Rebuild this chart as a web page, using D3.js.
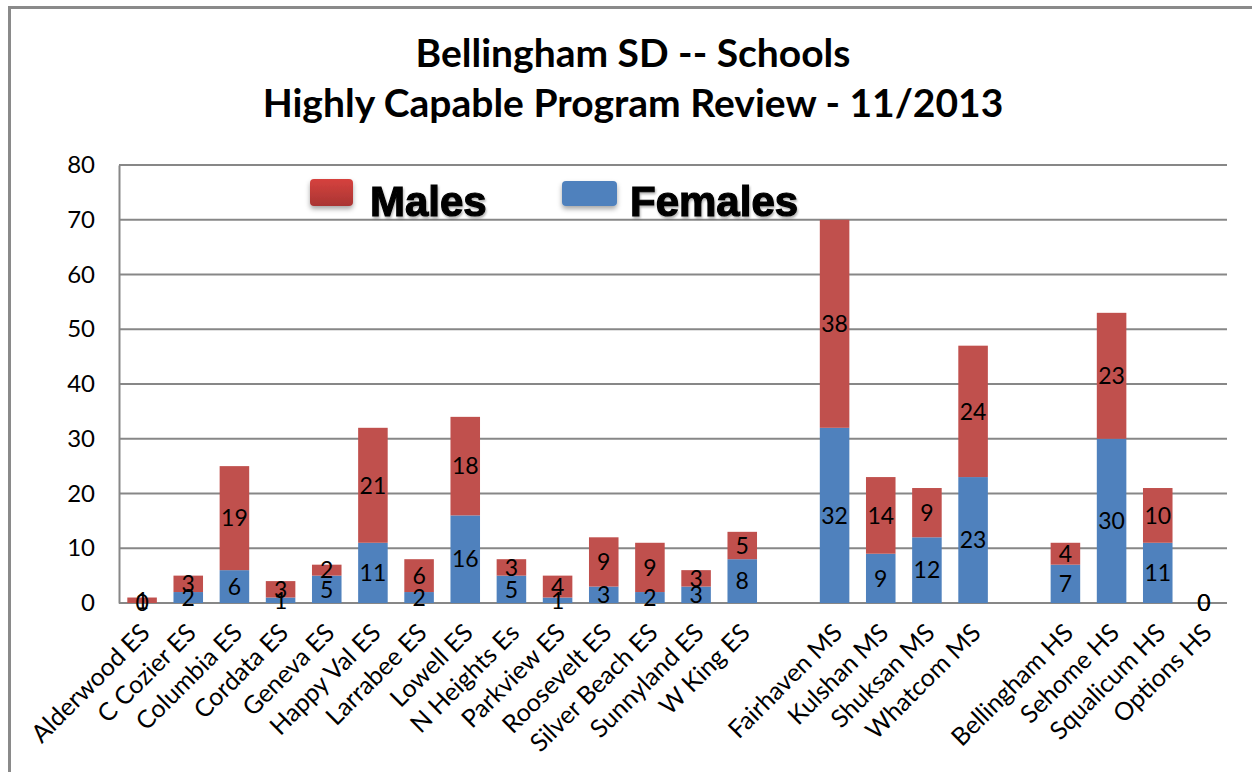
<!DOCTYPE html>
<html>
<head>
<meta charset="utf-8">
<script src="https://cdn.jsdelivr.net/npm/d3@7"></script>
<style>
  html, body { margin: 0; padding: 0; background: #fff; }
  svg { display: block; }
</style>
</head>
<body>
<svg id="chart" width="1252" height="772"></svg>
<script>
const categories = ["Alderwood ES","C Cozier ES","Columbia ES","Cordata ES","Geneva ES","Happy Val ES","Larrabee ES","Lowell ES","N Heights Es","Parkview ES","Roosevelt ES","Silver Beach ES","Sunnyland ES","W King ES","","Fairhaven MS","Kulshan MS","Shuksan MS","Whatcom MS","","Bellingham HS","Sehome HS","Squalicum HS","Options HS"];
const females = [0,2,6,1,5,11,2,16,5,1,3,2,3,8,null,32,9,12,23,null,7,30,11,0];
const males   = [1,3,19,3,2,21,6,18,3,4,9,9,3,5,null,38,14,9,24,null,4,23,10,0];
const yTicks = [0,10,20,30,40,50,60,70,80];
const titleLines = ["Bellingham SD -- Schools","Highly Capable Program Review - 11/2013"];
const seriesNames = ["Males","Females"];

const svg = d3.select("#chart");
const W = 1252, H = 772;
const plot = {left: 119, right: 1227, top: 165, bottom: 603};
const red = "#C0504D", blue = "#4F81BD", grid = "#878787";
const font = "Lato, 'Open Sans', sans-serif";

const defs = svg.append("defs");
const sh = defs.append("filter").attr("id","shadow").attr("x","-30%").attr("y","-30%").attr("width","160%").attr("height","180%");
sh.append("feDropShadow").attr("dx",0).attr("dy",3).attr("stdDeviation",2.5).attr("flood-color","#000").attr("flood-opacity",0.35);
const gR = defs.append("linearGradient").attr("id","gradR").attr("x1",0).attr("y1",0).attr("x2",0).attr("y2",1);
gR.append("stop").attr("offset","0%").attr("stop-color","#D6423E");
gR.append("stop").attr("offset","100%").attr("stop-color","#A93533");
const ts = defs.append("filter").attr("id","tshadow").attr("x","-10%").attr("y","-20%").attr("width","120%").attr("height","150%");
ts.append("feDropShadow").attr("dx",1).attr("dy",2).attr("stdDeviation",1.2).attr("flood-color","#000").attr("flood-opacity",0.3);

// outer frame
svg.append("path").attr("d",`M9.5,${H} V7.5 H${W}`).attr("fill","none").attr("stroke","#8a8a8a").attr("stroke-width",3);

const ids = categories.map((c,i)=>"c"+i);
const x = d3.scaleBand().domain(ids).range([plot.left, plot.right]).paddingInner(0.36).paddingOuter(0.18);
const y = d3.scaleLinear().domain([0,80]).range([plot.bottom, plot.top]);

// gridlines
svg.append("g").selectAll("line").data(yTicks).join("line")
  .attr("x1",plot.left).attr("x2",plot.right)
  .attr("y1",d=>y(d)).attr("y2",d=>y(d))
  .attr("stroke",grid).attr("stroke-width",2);

// y axis
const yAxis = svg.append("g").attr("transform",`translate(${plot.left},0)`)
  .call(d3.axisLeft(y).tickValues(yTicks).tickSize(0).tickPadding(24));
yAxis.select(".domain").attr("stroke",grid).attr("stroke-width",2);
yAxis.selectAll("text").attr("font-family",font).attr("font-size",24).attr("fill","#000");

// x axis labels
const xAxis = svg.append("g").attr("transform",`translate(0,${plot.bottom})`)
  .call(d3.axisBottom(x).tickSize(0).tickFormat((d,i)=>categories[i]));
xAxis.select(".domain").remove();
xAxis.selectAll("text")
  .attr("font-family",font).attr("font-size",25).attr("fill","#000")
  .attr("text-anchor","end")
  .attr("transform","translate(-3,19) rotate(-45)")
  .attr("dy","0.7em").attr("y",0).attr("x",0);

const rows = categories.map((c,i)=>({id:ids[i], f:females[i], m:males[i]})).filter(d=>d.f!==null);

const bars = svg.append("g");
bars.selectAll("rect.f").data(rows).join("rect").attr("class","f")
  .attr("x",d=>x(d.id)).attr("width",x.bandwidth())
  .attr("y",d=>y(d.f)).attr("height",d=>y(0)-y(d.f)).attr("fill",blue);
bars.selectAll("rect.m").data(rows).join("rect").attr("class","m")
  .attr("x",d=>x(d.id)).attr("width",x.bandwidth())
  .attr("y",d=>y(d.f+d.m)).attr("height",d=>y(d.f)-y(d.f+d.m)).attr("fill",red);

const labels = svg.append("g").attr("font-family",font).attr("font-size",23).attr("text-anchor","middle").attr("fill","#000");
labels.selectAll("text.f").data(rows).join("text")
  .attr("x",d=>x(d.id)+x.bandwidth()/2)
  .attr("y",d=>(y(0)+y(d.f))/2).attr("dy","0.36em").text(d=>d.f);
labels.selectAll("text.m").data(rows).join("text")
  .attr("x",d=>x(d.id)+x.bandwidth()/2)
  .attr("y",d=>(y(d.f)+y(d.f+d.m))/2).attr("dy","0.36em").text(d=>d.m);

// title
svg.append("g").selectAll("text").data(titleLines).join("text")
  .attr("x",633).attr("y",(d,i)=>67+i*50)
  .attr("text-anchor","middle").attr("font-family",font).attr("font-weight","bold").attr("font-size",39)
  .attr("fill","#000").text(d=>d);

// legend
const legend = [
  {name: seriesNames[0], fill:"url(#gradR)", sx:310, sw:43, sy:179, sh:27, tx:370},
  {name: seriesNames[1], fill:blue, sx:562, sw:55, sy:181, sh:25, tx:630}
];
const lg = svg.append("g");
lg.selectAll("rect").data(legend).join("rect")
  .attr("x",d=>d.sx).attr("y",d=>d.sy).attr("width",d=>d.sw).attr("height",d=>d.sh)
  .attr("rx",4).attr("fill",d=>d.fill).attr("filter","url(#shadow)");
lg.selectAll("text").data(legend).join("text")
  .attr("x",d=>d.tx).attr("y",216)
  .attr("font-family","'Liberation Sans', Arial, sans-serif").attr("font-weight","bold").attr("font-size",42)
  .attr("fill","#000").attr("stroke","#000").attr("stroke-width",1.2).attr("filter","url(#tshadow)")
  .text(d=>d.name);
</script>
</body>
</html>
